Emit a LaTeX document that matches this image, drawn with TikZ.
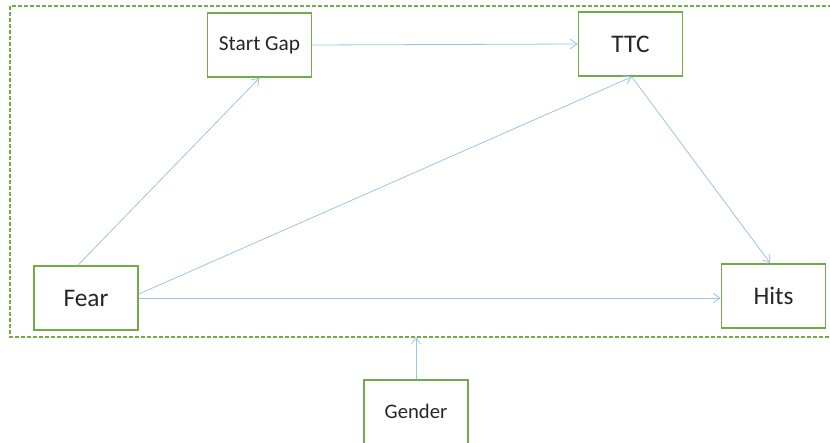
\documentclass[tikz,border=0pt]{standalone}
\usepackage{fontspec}
\setmainfont{Carlito}
\usetikzlibrary{arrows.meta, positioning}

\definecolor{boxgreen}{RGB}{112,173,71}
\definecolor{linkblue}{RGB}{157,195,230}

\tikzset{
	var/.style={draw=boxgreen, line width=1.3pt, fill=white, minimum width=78pt, minimum height=48pt, inner sep=0pt, text=black!85},
	link/.style={draw=linkblue, line width=0.6pt, -{Straight Barb[length=5pt, width=7pt, line width=0.6pt]}},
	frame/.style={draw=boxgreen, line width=0.8pt, dash pattern=on 3pt off 1.5pt},
}

\begin{document}
\begin{tikzpicture}[x=0.75pt, y=-0.75pt]
		\useasboundingbox (0,0) rectangle (830,442);
\clip (0,0) rectangle (830,442);

% moderated region
\draw[frame] (10,6) rectangle (840,337);
\coordinate (frameS) at (417,337);

\node[var, font=\fontsize{16}{18}\selectfont] (gap) at (259.5,45) {\raisebox{2pt}{Start Gap}};
\node[var, font=\fontsize{19}{22}\selectfont] (ttc) at (630.5,44) {TTC};
\node[var, font=\fontsize{19}{22}\selectfont] (fear) at (86,298) {Fear};
\node[var, font=\fontsize{19}{22}\selectfont] (hits) at (773.5,296) {Hits};
\node[var, font=\fontsize{15.5}{18}\selectfont, anchor=north] (gender) at (416,379) {Gender};

\draw[link] ([xshift=-6pt]fear.north) -- (gap.south);
\draw[link] (gap.east) -- (ttc.west);
\draw[link] ([yshift=3pt]fear.east) -- ([xshift=1pt]ttc.south);
\draw[link] ([xshift=1pt]ttc.south) -- ([xshift=-2.5pt]hits.north);
\draw[link] (fear.east) -- (fear.east -| hits.west);
\draw[link] (gender.north) -- (gender.north |- frameS);
	\end{tikzpicture}
\end{document}
